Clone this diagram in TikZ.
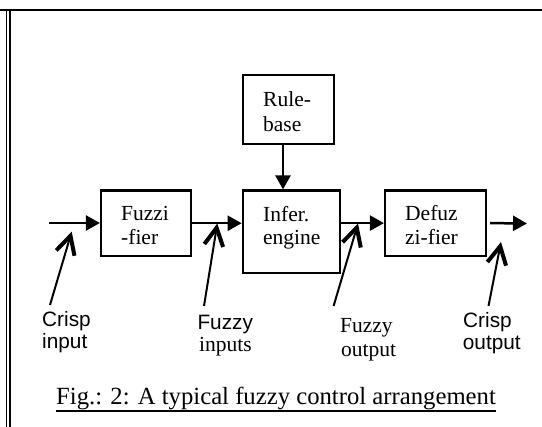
\documentclass[tikz,border=0pt]{standalone}
\usepackage{fontspec}
\setmainfont{Liberation Serif}
\newfontfamily\arialfont{Liberation Sans}
\usetikzlibrary{arrows.meta}
\begin{document}
\begin{tikzpicture}[x=1pt,y=-1pt,
  box/.style={draw, line width=2.2pt, inner sep=0pt},
  txt/.style={inner sep=0pt, anchor=base west, font=\fontsize{21.5}{24}\selectfont},
  stxt/.style={inner sep=0pt, anchor=base west, font=\arialfont\fontsize{20.8}{24}\selectfont},
  flow/.style={line width=2.5pt, -{Triangle[length=14pt,width=15pt]}},
  pointer/.style={line width=2pt, -{Straight Barb[length=18pt,width=19pt,line width=4pt]}},
  frame/.style={line width=1.4pt}]
\useasboundingbox (0,0) rectangle (542,427);
% frame
\draw[line width=2pt] (0,10) -- (542,10);
\draw[frame] (6.5,9.5) -- (6.5,427);
\draw[frame] (10,10) -- (10,427);
% boxes
\node[box, minimum width=90pt, minimum height=65.5pt] (fz) at (146,223.25) {};
\node[box, minimum width=97.3pt, minimum height=82.5pt] (inf) at (291.4,231.75) {};
\node[box, minimum width=91pt, minimum height=69pt] (rb) at (288.5,109.5) {};
\node[box, minimum width=101pt, minimum height=65.2pt] (def) at (435.5,223.1) {};
% box texts
\node[txt] (fz1) at (121,221) {Fuzzi};
\node[txt] (fz2) at (121,245) {-fier};
\node[txt] (rb1) at (263,107) {Rule-};
\node[txt] (rb2) at (263,131.5) {base};
\node[txt] (inf1) at (263,221.7) {Infer.};
\node[txt] (inf2) at (263,245) {engine};
\node[txt] (def1) at (405,221) {Defuz};
\node[txt] (def2) at (405,245) {zi-fier};
% labels
\node[stxt] (ci1) at (42,327) {Crisp};
\node[stxt] (ci2) at (42,349) {input};
\node[stxt] (fi1) at (197.3,329.3) {Fuzzy};
\node[txt] (fi2) at (199,352) {inputs};
\node[txt] (fo1) at (340,332.7) {Fuzzy};
\node[txt] (fo2) at (341,356.7) {output};
\node[stxt] (co1) at (463,327.3) {Crisp};
\node[stxt] (co2) at (462.7,350) {output};
% caption
\node[inner sep=0pt, anchor=base west, font=\fontsize{24.7}{28}\selectfont] (cap) at (56,405) {Fig.: 2: A typical fuzzy control arrangement};
\draw[line width=1.2pt] ([yshift=-6pt]cap.base west) -- ([yshift=-6pt]cap.base east);
% main flow
\coordinate (in) at (49,223);
\coordinate (out) at (527,223.5);
\coordinate (rx) at (283,0);
\draw[flow] (in) -- (in -| fz.west);
\draw[flow] (fz.east) -- (fz.east -| inf.west);
\draw[flow] (inf.east |- def.west) -- (def.west);
\draw[flow] ([xshift=3pt]def.east) -- (out);
\draw[flow] (rb.south -| rx) -- (inf.north -| rx);
% pointers
\coordinate (p1s) at (50,305);   \coordinate (p1t) at (71.7,231.7);
\coordinate (p2s) at (204,306);  \coordinate (p2t) at (217.3,223.5);
\coordinate (p3s) at (333.6,306);\coordinate (p3t) at (358,223.5);
\coordinate (p4s) at (488.5,306);\coordinate (p4t) at (501,242);
\draw[pointer] (p1s) -- (p1t);
\draw[pointer] (p2s) -- (p2t);
\draw[pointer] (p3s) -- (p3t);
\draw[pointer] (p4s) -- (p4t);
\end{tikzpicture}
\end{document}
